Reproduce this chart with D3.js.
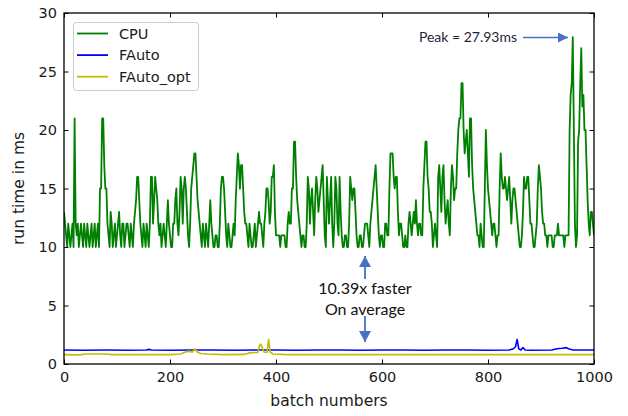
<!DOCTYPE html>
<html>
<head>
<meta charset="utf-8">
<script src="https://cdn.jsdelivr.net/npm/d3@7"></script>
<style>
  html, body { margin: 0; padding: 0; background: #fff; }
  svg { display: block; }
</style>
</head>
<body>
<svg id="chart" width="628" height="416"></svg>
<script>
// ---------- DATA ----------
const seriesNames = ["CPU", "FAuto", "FAuto_opt"];
const xTicks = [0, 200, 400, 600, 800, 1000];
const yTicks = [0, 5, 10, 15, 20, 25, 30];

// CPU run time (ms), one reading every cpuStep batches starting at batch 0
const cpuStep = 2;
const cpuValues = [
  // 0-98
  13,12,11,10,12,11,10,11,12,10, 21,12,11,12,10,11,12,11,10,12, 11,10,12,11,10,11,12,10,11,12,
  10,11,12,10,15,15,21,21,17,15, 15,12,11,10,13,12,10,11,12,10,
  // 100-198
  11,12,13,11,10,12,12,10,11,12, 12,11,10,12,11,10,12,13,14,16, 16,14,12,11,10,12,11,10,12,11,
  10,12,16,16,12,14,16,15,14,12, 11,12,10,11,12,11,10,12,14,12,
  // 200-298
  11,10,10,12,12,14,15,12,11,13, 16,15,12,15,16,15,13,11,10,12, 15,16,17,18,18,16,14,13,12,11,
  10,12,11,10,12,11,10,12,14,12, 11,10,10,11,11,10,10,12,15,16,
  // 300-398
  16,15,13,11,10,12,11,10,10,11, 12,11,14,16,18,17,15,17,17,15, 13,12,12,11,10,12,11,10,10,11,
  12,10,11,12,13,12,12,11,10,12, 13,15,15,14,12,13,16,16,17,13,
  // 400-498
  11,11,11,11,10,11,11,11,11,10, 10,12,13,12,12,15,15,19,19,16, 14,13,12,11,10,11,11,10,10,12,
  16,15,12,14,15,13,11,14,16,15, 13,14,15,16,17,14,11,10,16,14,
  // 500-598
  12,14,16,12,10,12,16,15,12,11, 16,13,11,10,10,11,11,10,10,12, 16,15,14,15,15,13,11,10,10,11,
  11,10,10,11,12,12,12,11,10,12, 13,14,15,16,17,15,13,11,10,11,
  // 600-698
  11,10,10,12,12,11,11,15,18,18, 18,16,15,16,16,13,11,12,12,11, 10,10,11,10,10,12,13,12,11,12,
  13,12,14,12,11,12,12,11,11,15, 17,19,19,16,15,13,13,12,10,11,
  // 700-798
  12,11,10,16,17,15,13,16,17,14, 12,13,14,12,11,15,17,16,14,15, 15,18,20,21,21,24,24,20,18,19,
  20,18,16,21,21,17,15,14,13,12, 11,11,10,12,11,10,10,15,20,17,
  // 800-898
  15,14,13,12,11,12,12,11,10,11, 11,15,18,16,15,15,16,15,14,15, 16,14,12,14,15,15,14,13,12,11,
  10,10,11,13,16,15,15,16,16,14, 12,12,11,10,10,11,12,15,17,16,
  // 900-1000
  15,13,12,12,11,11,10,11,11,11, 11,10,10,11,11,11,12,11,11,11, 11,11,10,11,11,11,11,20,23,24,
  27.93,20,12,10,11,19,20,24,27,22, 23,20,20,17,14,12,11,13,13,12,
  11
];

// FAuto run time (ms) at listed batches
const fautoBatches = [0, 40, 80, 120, 155, 160, 165, 200, 240, 280, 320, 360, 400, 440, 480, 520, 560, 600, 640, 680, 720, 760, 800, 840, 848, 852, 855, 858, 862, 866, 870, 880, 920, 930, 940, 948, 952, 960, 1000];
const fautoValues  = [1.2, 1.18, 1.2, 1.18, 1.2, 1.25, 1.2, 1.18, 1.2, 1.2, 1.18, 1.2, 1.2, 1.18, 1.2, 1.2, 1.18, 1.2, 1.2, 1.18, 1.2, 1.2, 1.18, 1.2, 1.3, 1.5, 2.1, 1.3, 1.2, 1.4, 1.2, 1.18, 1.2, 1.3, 1.35, 1.4, 1.3, 1.2, 1.2];

// FAuto_opt run time (ms) at listed batches
const optBatches = [0, 30, 40, 80, 90, 200, 220, 228, 236, 242, 247, 252, 258, 270, 300, 340, 350, 366, 369, 371, 374, 378, 383, 386, 389, 395, 420, 1000];
const optValues  = [0.8, 0.78, 0.86, 0.86, 0.8, 0.8, 0.86, 1.0, 1.1, 1.0, 1.3, 1.0, 0.9, 0.85, 0.8, 0.82, 0.95, 1.0, 1.6, 1.7, 1.4, 1.0, 1.0, 2.1, 1.0, 0.85, 0.8, 0.8];

const seriesColors = ["#008000", "#0000ff", "#bfbf00"];
const seriesWidths = [1.8, 1.6, 1.6];

// ---------- CHART ----------
const svg = d3.select("#chart");
const margin = {left: 64, top: 13, right: 34, bottom: 52};
const W = 628, H = 416;
const iw = W - margin.left - margin.right;   // 530
const ih = H - margin.top - margin.bottom;   // 351

const x = d3.scaleLinear().domain([0, 1000]).range([0, iw]);
const y = d3.scaleLinear().domain([0, 30]).range([ih, 0]);

const g = svg.append("g").attr("transform", `translate(${margin.left},${margin.top})`);

const cpuData = cpuValues.map((v, i) => [i * cpuStep, v]);
const fautoData = fautoBatches.map((b, i) => [b, fautoValues[i]]);
const optData = optBatches.map((b, i) => [b, optValues[i]]);

const line = d3.line().x(d => x(d[0])).y(d => y(d[1]));

const defs = svg.append("defs");
defs.append("clipPath").attr("id", "clip")
  .append("rect").attr("width", iw).attr("height", ih);

const plot = g.append("g").attr("clip-path", "url(#clip)");
[cpuData, fautoData, optData].forEach((data, i) => {
  plot.append("path")
    .datum(data)
    .attr("fill", "none")
    .attr("stroke", seriesColors[i])
    .attr("stroke-width", seriesWidths[i])
    .attr("stroke-linejoin", "round")
    .attr("d", line);
});

// axes
const tickLen = 4.5;
const fontTick = "DejaVu Sans, sans-serif";

const xAxis = g.append("g").attr("transform", `translate(0,${ih})`)
  .call(d3.axisBottom(x).tickValues(xTicks).tickSizeInner(-tickLen).tickSizeOuter(0).tickPadding(8).tickFormat(d3.format("d")));
const yAxis = g.append("g")
  .call(d3.axisLeft(y).tickValues(yTicks).tickSizeInner(-tickLen).tickSizeOuter(0).tickPadding(7).tickFormat(d3.format("d")));
const xTop = g.append("g")
  .call(d3.axisTop(x).tickValues(xTicks).tickSizeInner(-tickLen).tickSizeOuter(0).tickFormat(""));
const yRight = g.append("g").attr("transform", `translate(${iw},0)`)
  .call(d3.axisRight(y).tickValues(yTicks).tickSizeInner(-tickLen).tickSizeOuter(0).tickFormat(""));

[xAxis, yAxis, xTop, yRight].forEach(a => {
  a.select(".domain").remove();
  a.selectAll(".tick line").attr("stroke", "#000").attr("stroke-width", 1);
  a.selectAll(".tick text").attr("fill", "#1a1a1a").style("font-family", fontTick).style("font-size", "14.5px");
});

g.append("rect").attr("width", iw).attr("height", ih)
  .attr("fill", "none").attr("stroke", "#000").attr("stroke-width", 1.3);

// axis labels
svg.append("text")
  .attr("x", margin.left + iw / 2).attr("y", 406)
  .attr("text-anchor", "middle")
  .style("font-family", fontTick).style("font-size", "15.5px").attr("fill", "#1a1a1a")
  .text("batch numbers");
svg.append("text")
  .attr("transform", `translate(24,${margin.top + ih / 2}) rotate(-90)`)
  .attr("text-anchor", "middle")
  .style("font-family", fontTick).style("font-size", "15.5px").attr("fill", "#1a1a1a")
  .text("run time in ms");

// legend
const leg = svg.append("g");
leg.append("rect").attr("x", 73.5).attr("y", 22.5).attr("width", 125).attr("height", 68)
  .attr("rx", 3).attr("fill", "#fff").attr("stroke", "#cccccc").attr("stroke-width", 1);
seriesNames.forEach((name, i) => {
  const yy = 33.5 + i * 21.6;
  leg.append("line").attr("x1", 77).attr("x2", 108).attr("y1", yy).attr("y2", yy)
    .attr("stroke", seriesColors[i]).attr("stroke-width", 1.8);
  leg.append("text").attr("x", 119).attr("y", yy).attr("dy", "0.36em")
    .style("font-family", fontTick).style("font-size", "14.5px").attr("fill", "#1a1a1a")
    .text(name);
});

// annotations
const annBlue = "#4472c4";
const annFont = "Lato, 'Open Sans', sans-serif";
defs.append("marker").attr("id", "ah").attr("viewBox", "0 0 10 10")
  .attr("refX", 10).attr("refY", 5).attr("markerWidth", 10).attr("markerHeight", 10)
  .attr("markerUnits", "userSpaceOnUse").attr("orient", "auto")
  .append("path").attr("d", "M0,0 L10,5 L0,10 Z").attr("fill", annBlue);

svg.append("text").attr("x", 468).attr("y", 37.5).attr("dy", "0.35em")
  .attr("text-anchor", "middle")
  .style("font-family", annFont).style("font-size", "14px").attr("fill", "#1e2536")
  .text("Peak = 27.93ms");
svg.append("line").attr("x1", 523).attr("x2", 568).attr("y1", 37.5).attr("y2", 37.5)
  .attr("stroke", annBlue).attr("stroke-width", 1.5).attr("marker-end", "url(#ah)");

svg.append("text").attr("x", 365).attr("y", 288).attr("dy", "0.35em")
  .attr("text-anchor", "middle")
  .style("font-family", annFont).style("font-size", "16px").attr("fill", "#111")
  .text("10.39x faster");
svg.append("text").attr("x", 365).attr("y", 309).attr("dy", "0.35em")
  .attr("text-anchor", "middle")
  .style("font-family", annFont).style("font-size", "16px").attr("fill", "#111")
  .text("On average");

defs.append("marker").attr("id", "ah2").attr("viewBox", "0 0 12 12")
  .attr("refX", 11).attr("refY", 6).attr("markerWidth", 12).attr("markerHeight", 12)
  .attr("markerUnits", "userSpaceOnUse").attr("orient", "auto")
  .append("path").attr("d", "M0,0 L11,6 L0,12 Z").attr("fill", annBlue);
svg.append("line").attr("x1", 365).attr("x2", 365).attr("y1", 279).attr("y2", 256)
  .attr("stroke", annBlue).attr("stroke-width", 1.8).attr("marker-end", "url(#ah2)");
svg.append("line").attr("x1", 365).attr("x2", 365).attr("y1", 316).attr("y2", 342)
  .attr("stroke", annBlue).attr("stroke-width", 1.8).attr("marker-end", "url(#ah2)");
</script>
</body>
</html>
